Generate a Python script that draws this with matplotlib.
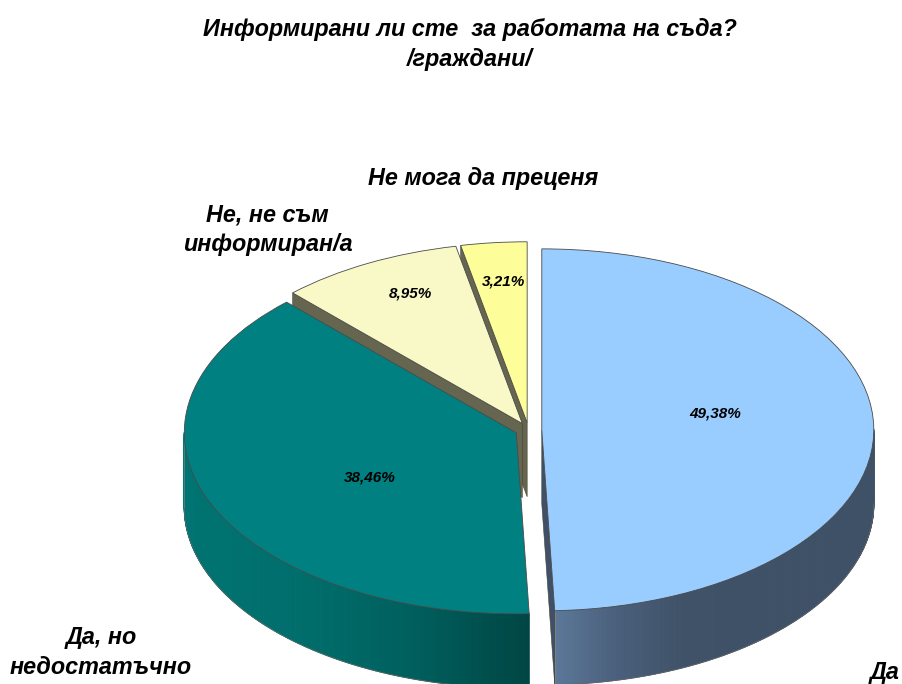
import numpy as np
import matplotlib
matplotlib.use("Agg")
import matplotlib.pyplot as plt
from matplotlib.collections import PolyCollection
from matplotlib.colors import LinearSegmentedColormap
from matplotlib.patches import Polygon

# ---- data ----
categories = ["Да", "Да, но\nнедостатъчно", "Не, не съм\nинформиран/а", "Не мога да преценя"]
values = [49.38, 38.46, 8.95, 3.21]
title_lines = "Информирани ли сте  за работата на съда?\n/граждани/"

# ---- styles ----
top_colors = ["#99CCFF", "#008080", "#F9F9C8", "#FDFD99"]
wall_maps = [
    ["#5C7899", "#4A5F7B", "#3F5268", "#3E5167", "#3E5167", "#3E5167"],
    ["#007472", "#006E6C", "#005F5D", "#004644"],
    ["#666650", "#666650"],
    ["#666650", "#666650"],
]
cut_colors = ["#3F5068", "#004644", "#666650", "#666650"]
W, H = 902, 684
CX, CY, RX, RY = 528.5, 430.0, 332.0, 181.0
DEPTH = 74.0 / RY
EXPLODE = 0.04
FONT = "Liberation Sans"

fig = plt.figure(figsize=(W / 100, H / 100), dpi=100, facecolor="white")
ax = fig.add_axes([0, 0, 1, 1])
wedges, _ = ax.pie(values, startangle=90, counterclock=False, colors=top_colors,
                   explode=[EXPLODE] * len(values), radius=1.0,
                   wedgeprops=dict(edgecolor="#4a4a4a", linewidth=0.6))
ax.set_aspect("auto")
ax.set_xlim(-CX / RX, (W - CX) / RX)
ax.set_ylim((CY - H) / RY, CY / RY)
ax.axis("off")


def rim(w, deg):
    t = np.radians(deg)
    return w.center[0] + w.r * np.cos(t), w.center[1] + w.r * np.sin(t)


# back to front: small yellow, light yellow, then the two big slices
order = [3, 2, 0, 1]
z = 2
for i in order:
    w = wedges[i]
    cmap = LinearSegmentedColormap.from_list(f"w{i}", wall_maps[i])
    cx, cy = w.center

    # outer wall, strip by strip along the lower half of the rim
    th = np.linspace(w.theta1, w.theta2, 361)
    th = th[np.sin(np.radians(th)) < 0.003]
    if len(th) > 1:
        xs, ys = rim(w, th)
        polys, cols = [], []
        lo, hi = xs.min(), xs.max()
        for k in range(len(th) - 1):
            polys.append([(xs[k], ys[k]), (xs[k + 1], ys[k + 1]),
                          (xs[k + 1], ys[k + 1] - DEPTH), (xs[k], ys[k] - DEPTH)])
            cols.append(cmap((0.5 * (xs[k] + xs[k + 1]) - lo) / (hi - lo)))
        ax.add_collection(PolyCollection(polys, facecolors=cols, edgecolors=cols,
                                         linewidths=0.8, zorder=z))
        ax.plot(xs, ys - DEPTH, color="#666666", lw=0.5, zorder=z + 0.1)
        ax.plot([xs[np.argmin(xs)]] * 2, [ys[np.argmin(xs)], ys[np.argmin(xs)] - DEPTH],
                color="#888888", lw=0.4, zorder=z + 0.1)

    # visible cut face
    if i == 0:
        cut_deg = w.theta1
    elif i in (2, 3):
        cut_deg = w.theta2
    else:
        cut_deg = None
    if cut_deg is not None:
        rx_, ry_ = rim(w, cut_deg)
        ax.add_patch(Polygon([(cx, cy), (rx_, ry_), (rx_, ry_ - DEPTH), (cx, cy - DEPTH)],
                             closed=True, facecolor=cut_colors[i], edgecolor="#444433",
                             linewidth=0.4, zorder=z + 0.2))
    w.set_zorder(z + 0.5)
    z += 1


def px_text(x, y, s, size, spacing=1.36):
    fig.text(x / W, 1 - y / H, s, family=FONT, weight="bold", style="italic", size=size,
             color="black", ha="center", va="center", linespacing=spacing, zorder=20)


px_text(470, 44.5, title_lines, 16.8)
px_text(101, 652.5, categories[1], 16.8)
px_text(267.5, 230, categories[2], 16.8)
px_text(483, 178.5, categories[3], 16.8)
px_text(885, 673, categories[0], 16.8)

pct_positions = [(715.5, 414), (370, 477), (410, 294), (503.5, 282)]
for v, (x, y) in zip(values, pct_positions):
    px_text(x, y, f"{v:.2f}".replace(".", ",") + "%", 11)

fig.savefig("out.png", dpi=100, facecolor="white")
